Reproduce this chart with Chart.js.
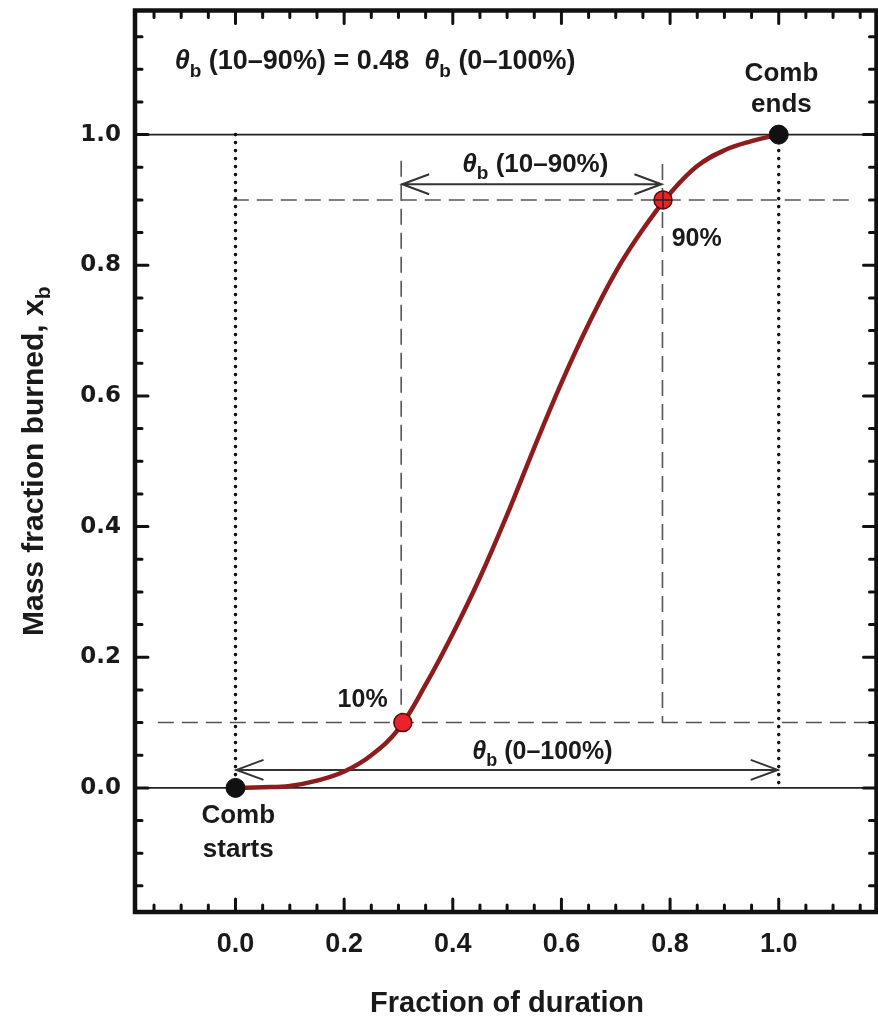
<!DOCTYPE html>
<html lang="en">
<head>
<meta charset="UTF-8">
<title>Mass fraction burned</title>
<style>
  html, body { margin: 0; background: #fff; overflow: hidden; }
  #wrap { width: 887px; height: 1021px; }
</style>
</head>
<body>
<div id="wrap"><canvas id="myChart"></canvas></div>
<script src="https://cdn.jsdelivr.net/npm/chart.js"></script>
<script>
// values
const duration = [0, 0.05, 0.1, 0.15, 0.2, 0.25, 0.3, 0.35, 0.4, 0.45, 0.5, 0.55, 0.6, 0.65, 0.7, 0.75, 0.8, 0.85, 0.9, 0.95, 1.0];
const burned = [0, 0.001, 0.003, 0.011, 0.025, 0.05, 0.09, 0.158, 0.236, 0.322, 0.418, 0.521, 0.62, 0.71, 0.79, 0.855, 0.91, 0.952, 0.976, 0.99, 1.0];
const combX = [0, 1];
const combY = [0, 1];
const pctX = [0.308, 0.787];
const pctY = [0.1, 0.9];
const pctLabels = ['10%', '90%'];
const xTicks = [0, 0.2, 0.4, 0.6, 0.8, 1.0];
const yTicks = [0, 0.2, 0.4, 0.6, 0.8, 1.0];
const theta10 = 0.305;
const theta90 = 0.786;

const FONT = '"Liberation Sans", Arial, sans-serif';

function partsWidth(ctx, parts) {
  let w = 0;
  parts.forEach(p => { ctx.font = p.f; w += ctx.measureText(p.t).width; });
  return w;
}

function rich(ctx, parts, x, y, align) {
  const w = partsWidth(ctx, parts);
  let cx = align === 'center' ? x - w / 2 : x;
  ctx.textAlign = 'left';
  ctx.textBaseline = 'alphabetic';
  parts.forEach(p => {
    ctx.font = p.f;
    ctx.fillText(p.t, cx, y + (p.dy || 0));
    cx += ctx.measureText(p.t).width;
  });
}

function thetaB(size, rest) {
  return [
    { t: 'θ', f: `italic bold ${size}px ${FONT}` },
    { t: 'b', f: `bold ${Math.round(size * 0.72)}px ${FONT}`, dy: size * 0.28 },
    { t: rest, f: `bold ${size}px ${FONT}` }
  ];
}

function arrow(ctx, x1, x2, y) {
  ctx.beginPath();
  ctx.moveTo(x1, y); ctx.lineTo(x2, y);
  ctx.moveTo(x1 + 28, y - 10); ctx.lineTo(x1 + 1, y); ctx.lineTo(x1 + 28, y + 10);
  ctx.moveTo(x2 - 28, y - 10); ctx.lineTo(x2 - 1, y); ctx.lineTo(x2 - 28, y + 10);
  ctx.stroke();
}

const decor = {
  id: 'decor',
  beforeDatasetsDraw(chart) {
    const ctx = chart.ctx, x = chart.scales.x, y = chart.scales.y;
    const { left, right } = chart.chartArea;
    ctx.save();
    // solid lines at 0 and 1
    ctx.strokeStyle = '#222'; ctx.lineWidth = 1.6;
    [0, 1].forEach(v => {
      ctx.beginPath(); ctx.moveTo(left, y.getPixelForValue(v)); ctx.lineTo(right, y.getPixelForValue(v)); ctx.stroke();
    });
    // dashed guide lines
    ctx.strokeStyle = '#555'; ctx.lineWidth = 1.6; ctx.setLineDash([16, 8]);
    const hline = (v, a, b) => {
      ctx.beginPath(); ctx.moveTo(x.getPixelForValue(a), y.getPixelForValue(v)); ctx.lineTo(x.getPixelForValue(b), y.getPixelForValue(v)); ctx.stroke();
    };
    const vline = (v, a, b) => {
      ctx.beginPath(); ctx.moveTo(x.getPixelForValue(v), y.getPixelForValue(a)); ctx.lineTo(x.getPixelForValue(v), y.getPixelForValue(b)); ctx.stroke();
    };
    hline(0.9, -0.005, 1.137);
    hline(0.1, -0.143, 1.165);
    vline(theta10, 0.96, 0.1);
    vline(theta90, 0.955, 0.1);
    // dotted verticals
    ctx.strokeStyle = '#111'; ctx.lineWidth = 3.6; ctx.lineCap = 'round'; ctx.setLineDash([0, 8]);
    vline(0, 1, 0);
    vline(1, 1, 0);
    ctx.setLineDash([]); ctx.lineCap = 'butt';
    // arrows
    ctx.strokeStyle = '#333'; ctx.lineWidth = 2;
    arrow(ctx, x.getPixelForValue(theta10), x.getPixelForValue(theta90), y.getPixelForValue(0.924));
    arrow(ctx, x.getPixelForValue(0), x.getPixelForValue(1), y.getPixelForValue(0.0275));
    ctx.restore();
  },
  afterDatasetsDraw(chart) {
    const ctx = chart.ctx, x = chart.scales.x, y = chart.scales.y;
    const { top, bottom } = chart.chartArea;
    ctx.save();
    // crosshair over the 90% marker
    const px = x.getPixelForValue(pctX[1]), py = y.getPixelForValue(pctY[1]);
    ctx.strokeStyle = '#222'; ctx.lineWidth = 1.4;
    ctx.beginPath(); ctx.moveTo(px - 9, py); ctx.lineTo(px + 9, py); ctx.moveTo(px, py - 9); ctx.lineTo(px, py + 9); ctx.stroke();

    ctx.fillStyle = '#1a1a1a';
    const first = thetaB(27, ' (10–90%) = 0.48  ');
    const ax = x.getPixelForValue(-0.112), ay = y.getPixelForValue(1.115) + 10;
    rich(ctx, first, ax, ay, 'left');
    rich(ctx, thetaB(27, ' (0–100%)'), ax + partsWidth(ctx, first), ay, 'left');

    rich(ctx, thetaB(26, ' (10–90%)'), x.getPixelForValue(0.552), y.getPixelForValue(0.957) + 9, 'center');
    rich(ctx, thetaB(25, ' (0–100%)'), x.getPixelForValue(0.565), y.getPixelForValue(0.058) + 9, 'center');

    ctx.font = `bold 26px ${FONT}`;
    ctx.textAlign = 'center'; ctx.textBaseline = 'middle';
    ctx.fillText('Comb', x.getPixelForValue(1.005), y.getPixelForValue(1.093));
    ctx.fillText('ends', x.getPixelForValue(1.005), y.getPixelForValue(1.045));
    ctx.fillText('Comb', x.getPixelForValue(0.005), y.getPixelForValue(-0.043));
    ctx.fillText('starts', x.getPixelForValue(0.005), y.getPixelForValue(-0.095));
    ctx.font = `bold 25px ${FONT}`;
    ctx.fillText(pctLabels[0], x.getPixelForValue(0.234), y.getPixelForValue(0.134));
    ctx.fillText(pctLabels[1], x.getPixelForValue(0.849), y.getPixelForValue(0.84));

    // axis titles
    ctx.font = `bold 29px ${FONT}`;
    ctx.fillText('Fraction of duration', 507, 1004);
    ctx.save();
    ctx.translate(33, (top + bottom) / 2);
    ctx.rotate(-Math.PI / 2);
    const main = 'Mass fraction burned, x';
    ctx.font = `bold 30px ${FONT}`;
    const mw = ctx.measureText(main).width;
    ctx.font = `bold 21px ${FONT}`;
    const sw = ctx.measureText('b').width;
    ctx.textAlign = 'left'; ctx.textBaseline = 'alphabetic';
    ctx.font = `bold 30px ${FONT}`;
    ctx.fillText(main, -(mw + sw) / 2, 10);
    ctx.font = `bold 21px ${FONT}`;
    ctx.fillText('b', -(mw + sw) / 2 + mw, 17);
    ctx.restore();
    ctx.restore();
  },
  afterDraw(chart) {
    const ctx = chart.ctx, x = chart.scales.x, y = chart.scales.y;
    const { left, right, top, bottom } = chart.chartArea;
    ctx.save();
    ctx.strokeStyle = '#111'; ctx.lineWidth = 3; ctx.lineCap = 'round';
    ctx.beginPath();
    for (let k = -3; k <= 23; k++) {
      const v = k * 0.05;
      const len = k % 4 === 0 ? 13 : 7;
      const px = x.getPixelForValue(v);
      ctx.moveTo(px, bottom); ctx.lineTo(px, bottom - len);
      ctx.moveTo(px, top); ctx.lineTo(px, top + len);
      const py = y.getPixelForValue(v);
      ctx.moveTo(left, py); ctx.lineTo(left + len, py);
      ctx.moveTo(right, py); ctx.lineTo(right - len, py);
    }
    ctx.stroke();
    ctx.lineWidth = 4.5; ctx.lineCap = 'butt';
    ctx.strokeRect(left, top, right - left, bottom - top);
    ctx.restore();
  }
};

const myChart = new Chart(document.getElementById('myChart'), {
  type: 'scatter',
  data: {
    datasets: [
      {
        label: 'Comb',
        data: combX.map((v, i) => ({ x: v, y: combY[i] })),
        backgroundColor: '#111', borderColor: '#111', pointRadius: 9.5, order: 1
      },
      {
        label: 'Percent',
        data: pctX.map((v, i) => ({ x: v, y: pctY[i] })),
        backgroundColor: '#e8232a', borderColor: '#5a0a0a', borderWidth: 1.5, pointRadius: 9, order: 1
      },
      {
        label: 'Mass fraction burned',
        data: duration.map((v, i) => ({ x: v, y: burned[i] })),
        showLine: true, borderColor: '#8e1c1c', borderWidth: 4.5, pointRadius: 0,
        tension: 0.4, fill: false, order: 2
      }
    ]
  },
  options: {
    responsive: true,
    maintainAspectRatio: false,
    animation: false,
    layout: { padding: { top: 9, right: 1, left: 0, bottom: 0 } },
    plugins: { legend: { display: false }, tooltip: { enabled: false } },
    scales: {
      x: {
        type: 'linear', min: -0.185, max: 1.18,
        grid: { display: false }, border: { display: false },
        ticks: { padding: 8, color: '#1a1a1a', font: { family: FONT, size: 27, weight: 'bold' }, callback: v => v.toFixed(1) },
        afterBuildTicks: s => { s.ticks = xTicks.map(v => ({ value: v })); },
        afterFit: s => { s.height = 109; s.paddingLeft = 0; s.paddingRight = 0; }
      },
      y: {
        type: 'linear', min: -0.19, max: 1.19,
        grid: { display: false }, border: { display: false },
        ticks: { padding: 6, color: '#1a1a1a', font: { family: '"DejaVu Sans", sans-serif', size: 23, weight: 'bold' }, callback: v => v.toFixed(1) },
        afterBuildTicks: s => { s.ticks = yTicks.map(v => ({ value: v })); },
        afterFit: s => { s.width = 135; s.paddingTop = 0; s.paddingBottom = 0; }
      }
    }
  },
  plugins: [decor]
});
</script>
</body>
</html>
